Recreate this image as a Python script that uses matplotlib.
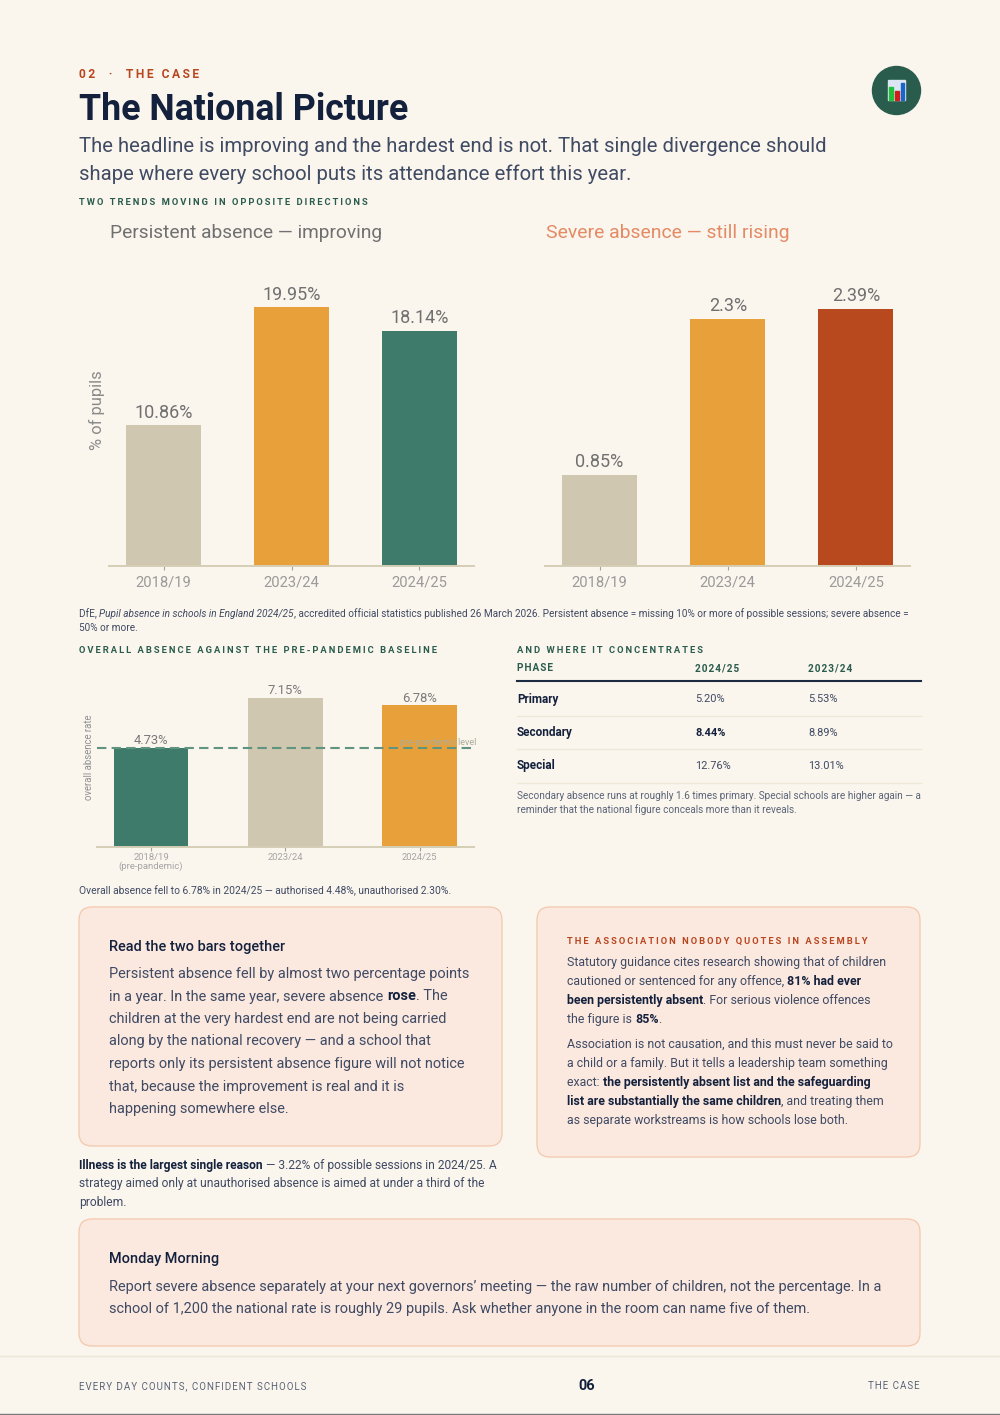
import matplotlib
matplotlib.use("Agg")
import matplotlib.pyplot as plt
from matplotlib.patches import FancyBboxPatch, Circle, Rectangle

plt.rcParams['font.family'] = ['Roboto', 'DejaVu Sans']

W, H = 1000, 1415
PX = 0.72  # font px to pt at dpi 100

BG = '#FAF5ED'
NAVY = '#14213D'
SLATE = '#3F4A63'
GREEN = '#2A5C4E'
RUST = '#B8461F'
BEIGE = '#CFC7AF'
ORANGE = '#E8A13A'
TEAL = '#3F7B6A'
BRICK = '#B8491F'
GREY = '#707070'
LIGHT = '#9A9A9A'
AXIS = '#D6CEB6'

years = ['2018/19', '2023/24', '2024/25']
persistent = [10.86, 19.95, 18.14]
persistent_labels = ['10.86%', '19.95%', '18.14%']
severe = [0.85, 2.30, 2.39]
severe_labels = ['0.85%', '2.3%', '2.39%']
overall_years = ['2018/19\n(pre-pandemic)', '2023/24', '2024/25']
overall = [4.73, 7.15, 6.78]
overall_labels = ['4.73%', '7.15%', '6.78%']
baseline = 4.73

table_cols = ['PHASE', '2024/25', '2023/24']
phases = ['Primary', 'Secondary', 'Special']
phase_2425 = ['5.20%', '8.44%', '12.76%']
phase_2324 = ['5.53%', '8.89%', '13.01%']

fig = plt.figure(figsize=(W / 100, H / 100), dpi=100, facecolor=BG)
page = fig.add_axes([0, 0, 1, 1])
page.set_xlim(0, W)
page.set_ylim(H, 0)
page.axis('off')
renderer = fig.canvas.get_renderer()


def spaced(s, n=2):
    return ('\u200a' * n).join(s)


def txt(x, y, s, size, color=SLATE, weight='normal', style='normal', ha='left', **kw):
    return page.text(x, y, s, fontsize=size * PX, color=color, fontweight=weight,
                     fontstyle=style, ha=ha, va='baseline', **kw)


def run_width(s, size, weight, style):
    # trailing spaces don't count in the extent, so measure against a dot
    a = page.text(0, 0, s + '.', fontsize=size * PX, fontweight=weight, fontstyle=style)
    b = page.text(0, 0, '.', fontsize=size * PX, fontweight=weight, fontstyle=style)
    w = a.get_window_extent(renderer).width - b.get_window_extent(renderer).width
    a.remove()
    b.remove()
    return w


def runs(x, y, parts, size, color=SLATE):
    # parts: plain strings, or (string, 'b') / (string, 'i')
    for p in parts:
        s, kind = (p, '') if isinstance(p, str) else p
        weight = 'bold' if kind == 'b' else 'normal'
        style = 'italic' if kind == 'i' else 'normal'
        col = NAVY if kind == 'b' else color
        txt(x, y, s, size, col, weight, style)
        x += run_width(s, size, weight, style)


def box(l, t, r, b):
    page.add_patch(FancyBboxPatch((l, t), r - l, b - t, boxstyle='round,pad=0,rounding_size=13',
                                  fc='#FBE9E0', ec='#F3C8AD', lw=0.9))


def chart(l, t, r, b):
    ax = fig.add_axes([l / W, 1 - b / H, (r - l) / W, (b - t) / H])
    ax.patch.set_alpha(0)
    for side in ['top', 'right', 'left']:
        ax.spines[side].set_visible(False)
    ax.spines['bottom'].set_color(AXIS)
    ax.spines['bottom'].set_linewidth(1.4)
    ax.set_yticks([])
    return ax


def bars(ax, values, labels, ticks, colors, width, lab_size, tick_size, tick_color, pad=4, off=2.5, lab_color=GREY):
    ax.bar(range(3), values, width=width, color=colors, linewidth=0)
    for i, v in enumerate(values):
        ax.annotate(labels[i], (i, v), xytext=(0, off), textcoords='offset points', ha='center',
                    va='bottom', fontsize=lab_size * PX, color=lab_color)
    ax.set_xticks(range(3))
    ax.set_xticklabels(ticks, fontsize=tick_size * PX, color=tick_color, linespacing=0.95)
    ax.tick_params(axis='x', length=3, width=0.8, color='#A8A290', pad=pad)


# header
txt(79, 78, spaced('02  ·  THE CASE'), 12, RUST, 'bold')
txt(79, 120, 'The National Picture', 35.7, NAVY, 'bold')
txt(79, 152, 'The headline is improving and the hardest end is not. That single divergence should', 20.25)
txt(79, 180, 'shape where every school puts its attendance effort this year.', 20.25)
txt(79, 205, spaced('TWO TRENDS MOVING IN OPPOSITE DIRECTIONS'), 9.4, GREEN, 'bold')

# icon
page.add_patch(Circle((896.5, 90.5), 24, color=GREEN))
page.add_patch(Rectangle((888, 80), 17, 20, color='#DCE6F2'))
page.add_patch(Rectangle((889, 87), 4, 13, color='#22C03A'))
page.add_patch(Rectangle((894.5, 91), 4, 9, color='#D0201C'))
page.add_patch(Rectangle((900.5, 82.5), 3.5, 17.5, color='#1A66C8'))

# top charts
txt(110, 238, 'Persistent absence — improving', 19.2, GREY)
txt(546, 238, 'Severe absence — still rising', 19.4, '#E48A64')

ax1 = chart(109, 254.5, 474, 566)
ax1.set_xlim(-0.426, 2.426)
ax1.set_ylim(0, 24)
bars(ax1, persistent, persistent_labels, years, [BEIGE, ORANGE, TEAL], 0.586, 18, 14.8, LIGHT)
ax1.set_ylabel('% of pupils', fontsize=16.4 * PX, color='#8A8A8A')
ax1.yaxis.set_label_coords((105 - 109) / 365, (566 - 410) / 311.5)

ax2 = chart(545, 254, 910, 566)
ax2.set_xlim((545 - 599.5) / 128.2, (910 - 599.5) / 128.2)
ax2.set_ylim(0, 2.9)
bars(ax2, severe, severe_labels, years, [BEIGE, ORANGE, BRICK], 0.586, 18, 14.8, LIGHT)

runs(79, 617, ['DfE, ', ('Pupil absence in schools in England 2024/25', 'i'),
               ', accredited official statistics published 26 March 2026. Persistent absence = missing 10% or more of possible sessions; severe absence ='], 10.0)
txt(79, 631, '50% or more.', 10.0)

# overall absence chart
txt(79, 653, spaced('OVERALL ABSENCE AGAINST THE PRE-PANDEMIC BASELINE'), 9.4, GREEN, 'bold')
ax3 = chart(97, 680, 474, 847)
ax3.set_xlim((97 - 151) / 134.25, (474 - 151) / 134.25)
ax3.set_ylim(0, 167 / 20.9)
bars(ax3, overall, overall_labels, overall_years, [TEAL, BEIGE, ORANGE], 0.555, 13, 9.5, '#A5A5A5', pad=1, off=0.5, lab_color='#7A7A7A')
ax3.axhline(baseline, color='#5F9481', lw=1.5, ls=(0, (4.5, 2.5)))
ax3.text(1.005, baseline + 0.05, 'pre-pandemic level', transform=ax3.get_yaxis_transform(), ha='right', va='bottom',
         fontsize=9.2 * PX, color='#A9AB9C', clip_on=False)
ax3.set_ylabel('overall absence rate', fontsize=9.6 * PX, color='#909090')
ax3.yaxis.set_label_coords((94 - 97) / 377, (847 - 757) / 167)
txt(79, 894, 'Overall absence fell to 6.78% in 2024/25 — authorised 4.48%, unauthorised 2.30%.', 10.2)

# table
txt(517, 653, spaced('AND WHERE IT CONCENTRATES'), 9.4, GREEN, 'bold')
col_x = [517, 695, 808]
for x, c in zip(col_x, table_cols):
    txt(x, 671, spaced(c, 1), 10, GREEN, 'bold')
page.plot([517, 921], [681, 681], color='#1C2A44', lw=1.5)
for i, (name, a, b) in enumerate(zip(phases, phase_2425, phase_2324)):
    y = 702 + i * 33.5
    txt(col_x[0], y + 0.5, name, 11.8, NAVY, 'bold')
    txt(col_x[1], y, a, 11, NAVY if name == 'Secondary' else SLATE, 'bold' if name == 'Secondary' else 'normal')
    txt(col_x[2], y, b, 11, SLATE)
    page.plot([517, 921], [y + 13.5, y + 13.5], color='#EFE8D6', lw=0.9)
txt(517, 799, 'Secondary absence runs at roughly 1.6 times primary. Special schools are higher again — a', 10.0, '#5A6478')
txt(517, 813, 'reminder that the national figure conceals more than it reveals.', 10.0, '#5A6478')

# call-out boxes
box(79, 907, 502, 1146)
txt(109, 951, 'Read the two bars together', 14.5, NAVY, 'medium')
box_a = [
    ['Persistent absence fell by almost two percentage points'],
    ['in a year. In the same year, severe absence ', ('rose', 'b'), '. The'],
    ['children at the very hardest end are not being carried'],
    ['along by the national recovery — and a school that'],
    ['reports only its persistent absence figure will not notice'],
    ['that, because the improvement is real and it is'],
    ['happening somewhere else.'],
]
for i, parts in enumerate(box_a):
    runs(109, 978 + i * 22.5, parts, 14.5)

runs(79, 1169, [('Illness is the largest single reason', 'b'), ' — 3.22% of possible sessions in 2024/25. A'], 12.0)
txt(79, 1187, 'strategy aimed only at unauthorised absence is aimed at under a third of the', 12.0)
txt(79, 1206, 'problem.', 12.0)

box(537, 907, 920, 1157)
txt(567, 944, spaced('THE ASSOCIATION NOBODY QUOTES IN ASSEMBLY'), 9.4, RUST, 'bold')
box_b1 = [
    ['Statutory guidance cites research showing that of children'],
    ['cautioned or sentenced for any offence, ', ('81% had ever', 'b')],
    [('been persistently absent', 'b'), '. For serious violence offences'],
    ['the figure is ', ('85%', 'b'), '.'],
]
box_b2 = [
    ['Association is not causation, and this must never be said to'],
    ['a child or a family. But it tells a leadership team something'],
    ['exact: ', ('the persistently absent list and the safeguarding', 'b')],
    [('list are substantially the same children', 'b'), ', and treating them'],
    ['as separate workstreams is how schools lose both.'],
]
for i, parts in enumerate(box_b1):
    runs(567, 966 + i * 19, parts, 12.35)
for i, parts in enumerate(box_b2):
    runs(567, 1048 + i * 19, parts, 12.35)

box(79, 1219, 920, 1346)
txt(109, 1263, 'Monday Morning', 14.5, NAVY, 'medium')
txt(109, 1291, 'Report severe absence separately at your next governors’ meeting — the raw number of children, not the percentage. In a', 14.5)
txt(109, 1313, 'school of 1,200 the national rate is roughly 29 pupils. Ask whether anyone in the room can name five of them.', 14.5)

# footer
page.plot([0, W], [1356, 1356], color='#EFE7D6', lw=1)
page.plot([0, W], [1413.5, 1413.5], color='#7A7A7A', lw=1)
txt(79, 1389, spaced('EVERY DAY COUNTS, CONFIDENT SCHOOLS', 1), 9.8, '#5A6478')
txt(587, 1390, '06', 14.5, NAVY, 'bold', ha='center')
txt(920, 1389, spaced('THE CASE', 1), 9.8, '#5A6478', ha='right')

fig.savefig('out.png', dpi=100, facecolor=BG)
